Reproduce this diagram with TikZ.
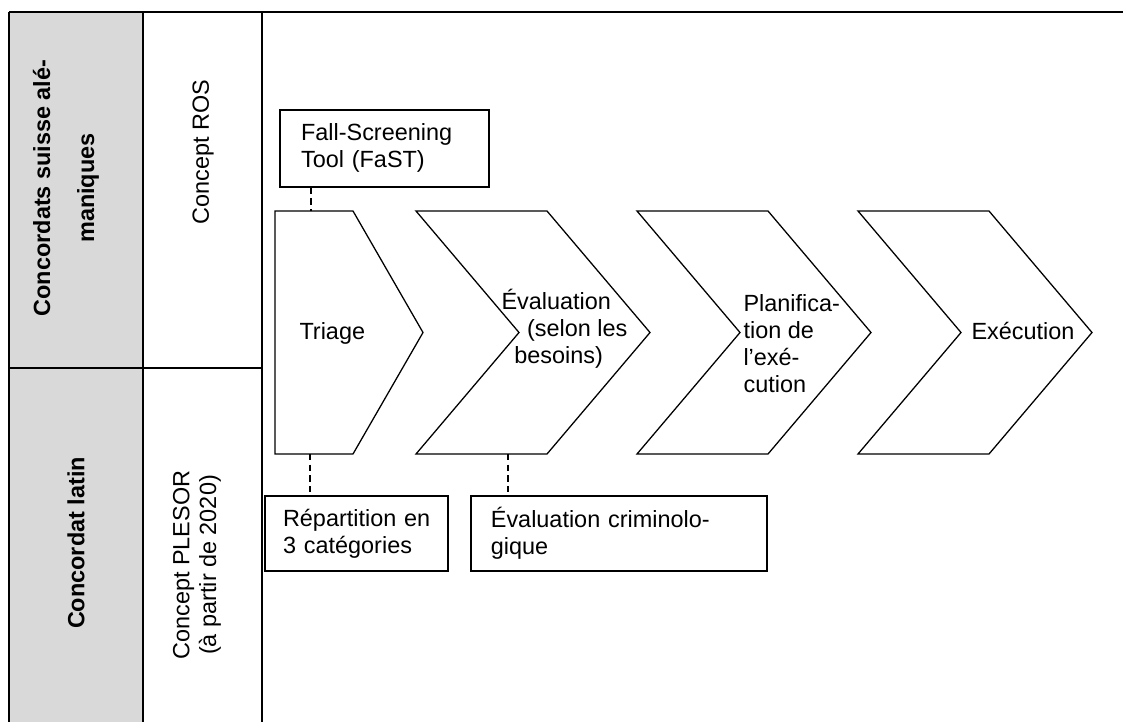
\documentclass[tikz,border=0pt]{standalone}
\usepackage{fontspec}
\setmainfont{Liberation Sans}
\usetikzlibrary{calc}
\definecolor{cellgray}{RGB}{217,217,217}

\begin{document}
\begin{tikzpicture}[x=0.0165cm, y=-0.0165cm,
    every node/.style={font=\fontsize{11}{12.65}\selectfont},
    rule/.style={line width=1.1pt},
    stage/.style={draw, line width=0.6pt},
    header/.style={rotate=90, align=center, font=\fontsize{11}{12.65}\selectfont\bfseries},
    concept/.style={rotate=90, align=center},
    infobox/.style={draw, line width=0.8pt, align=left, anchor=north west, inner ysep=2pt},
    link/.style={line width=1pt, dash pattern=on 3pt off 2pt}]
    \useasboundingbox (0,0) rectangle (1123,722);

    % table on the left
    \fill[cellgray] (10,13) rectangle (142,367);
    \fill[cellgray] (10,369) rectangle (142,722);
    \draw[rule] (9,12) -- (1123,12);
    \draw[rule] (9,12) -- (9,722);
    \draw[rule] (143,12) -- (143,722);
    \draw[rule] (262,12) -- (262,722);
    \draw[rule] (9,368) -- (262,368);

    \node[header] (german) at (66,188) {Concordats suisse alé-\\[8pt]maniques};
    \node[header] (latin) at (76,543) {Concordat latin};
    \node[concept] (ros) at (203,152) {Concept ROS};
    \node[concept] (plesor) at (197,565) {Concept PLESOR\\(à partir de 2020)};

    % chevrons
    \draw[stage] (275,211) -- (353,211) -- (423,332.5) -- (353,454) -- (275,454) -- cycle;
    \coordinate (triage-top) at (311,211);
    \coordinate (triage-bot) at (310,454);
    \node[anchor=west] (triage) at (292,333) {Triage};
    \foreach \name/\lx in {eval/416, plan/637, exec/858} {
        \draw[stage] (\lx,211) -- ++(131,0) -- ++(103,121.5) -- ++(-103,121.5)
            -- ++(-131,0) -- ++(103,-121.5) -- cycle;
        \coordinate (\name-bot) at (\lx+92,454);
    }
    \node[anchor=west, align=left] (evaltext) at (494,329)
        {Évaluation\\\hspace*{12pt}(selon les\\\hspace*{6pt}besoins)};
    \node[anchor=west, align=left] (plantext) at (736,344) {Planifica-\\tion de\\l’exé-\\cution};
    \node[anchor=west] (exectext) at (964,331) {Exécution};

    % boxes above and below
    \node[infobox, inner xsep=0.35cm, text width=2.75cm, minimum height=1.27cm] (fast) at (279,109)
        {Fall-Screening\\Tool (FaST)};
    \node[infobox, inner xsep=0.3cm, text width=2.42cm, minimum height=1.24cm] (repart) at (264,495)
        {Répartition~en\\3 catégories};
    \node[infobox, inner xsep=0.33cm, text width=4.22cm, minimum height=1.24cm] (crimino) at (470,495)
        {Évaluation criminolo-\\gique};

    % dashed links
    \draw[link] (fast.south -| triage-top) -- (triage-top);
    \draw[link] (triage-bot) -- (triage-bot |- repart.north);
    \draw[link] (eval-bot) -- (eval-bot |- crimino.north);
\end{tikzpicture}
\end{document}
